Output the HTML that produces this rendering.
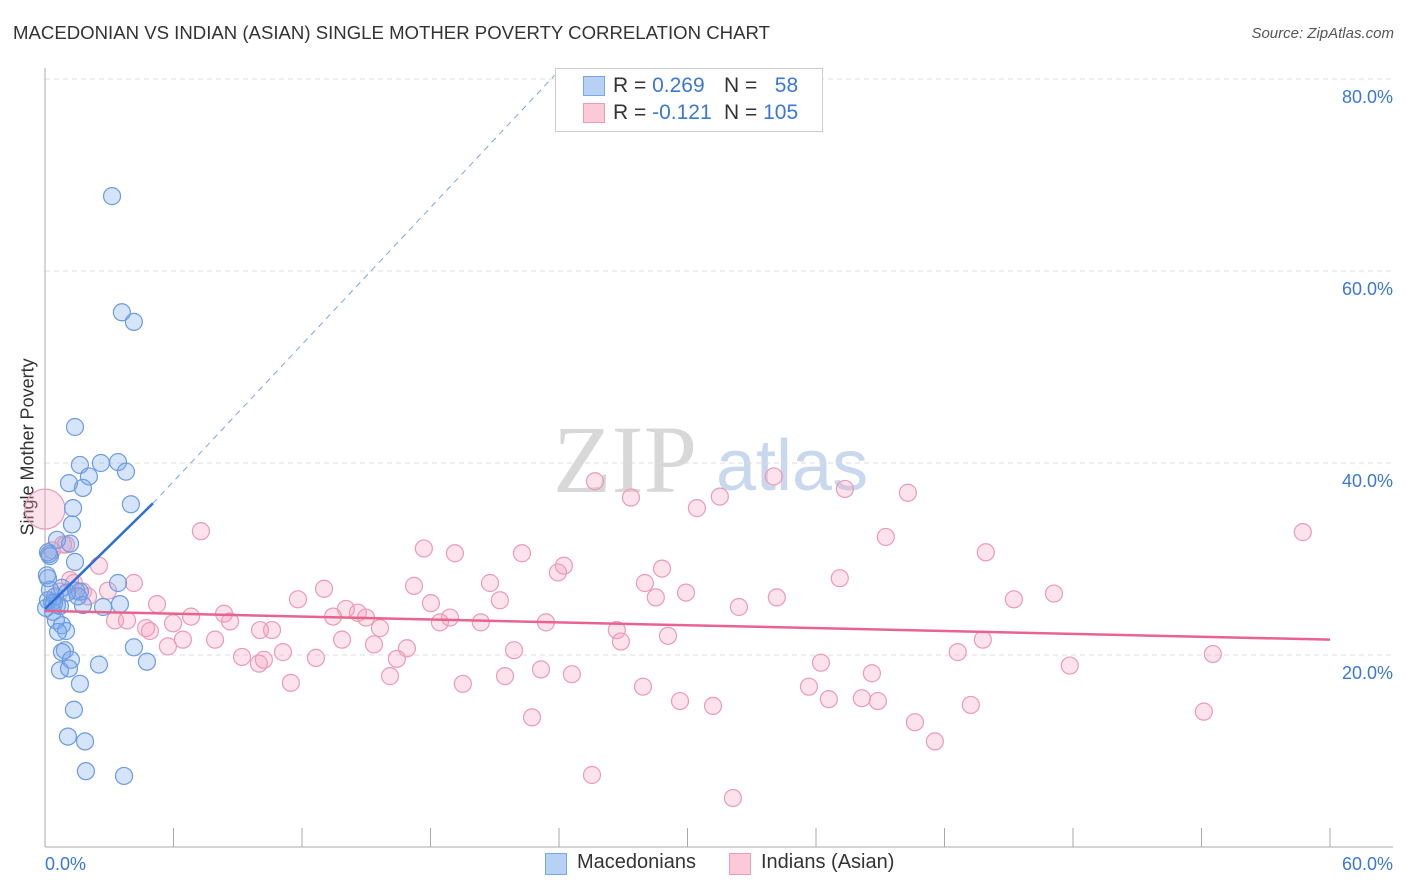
<!DOCTYPE html>
<html><head><meta charset="utf-8"><style>
body{margin:0;background:#fff;font-family:"Liberation Sans",sans-serif;}
#root{position:relative;width:1406px;height:892px;overflow:hidden;}
.t{position:absolute;white-space:nowrap;}
</style></head><body>
<div id="root">
<div class="t" style="left:13px;top:22px;font-size:18.6px;color:#333">MACEDONIAN VS INDIAN (ASIAN) SINGLE MOTHER POVERTY CORRELATION CHART</div>
<div class="t" style="right:12px;top:25px;font-size:15px;color:#555;font-style:italic">Source: ZipAtlas.com</div>
<div class="t" style="left:-52px;top:445px;width:160px;text-align:center;transform:rotate(-90deg);font-size:18px;color:#333">Single Mother Poverty</div>
<svg id="svg" width="1406" height="892" style="position:absolute;left:0;top:0">
<g id="wm">
<text x="553" y="492" font-family="Liberation Serif" font-size="96" fill="#d8d8d8">ZIP</text>
<text x="716" y="490" font-family="Liberation Sans" font-size="72" fill="#c8d8ee">atlas</text>
</g>
</svg>
<div style="position:absolute;left:555px;top:68px;width:266px;height:62px;border:1px solid #ccc;background:#fff;font-size:21px">
<div style="position:absolute;left:27px;top:7px;width:20px;height:18px;background:#b7d1f4;border:1px solid #7aa6e6"></div>
<div class="t" style="left:57px;top:5px;color:#333">R = <span style="color:#3b78d4">0.269</span></div>
<div class="t" style="left:168px;top:5px;color:#333">N = <span style="color:#3b78d4">&nbsp;&nbsp;58</span></div>
<div style="position:absolute;left:27px;top:34px;width:20px;height:18px;background:#fcc9d8;border:1px solid #ec9bb4"></div>
<div class="t" style="left:57px;top:32px;color:#333">R = <span style="color:#3b78d4">-0.121</span></div>
<div class="t" style="left:168px;top:32px;color:#333">N = <span style="color:#3b78d4">105</span></div>
</div>
<div style="position:absolute;left:545px;top:853px;width:20px;height:20px;background:#b7d1f4;border:1px solid #7aa6e6"></div>
<div class="t" style="left:577px;top:851px;font-size:20px;color:#333">Macedonians</div>
<div style="position:absolute;left:729px;top:853px;width:20px;height:20px;background:#fcc9d8;border:1px solid #ec9bb4"></div>
<div class="t" style="left:761px;top:851px;font-size:20px;color:#333">Indians (Asian)</div>
</div>
<script>
const yTicks=[20,40,60,80];
const yTickLabels=["20.0%","40.0%","60.0%","80.0%"];
const xTickLabels=["0.0%","60.0%"];
const blueX=[3.13,3.59,4.15,1.40,1.63,2.61,3.41,3.78,2.05,1.12,1.77,4.01,1.31,1.26,0.56,1.17,0.14,0.23,0.14,1.40,3.41,0.79,1.45,0.47,1.63,0.33,0.56,1.77,3.50,2.71,0.51,0.79,0.98,0.61,0.93,0.79,4.15,1.21,4.76,2.52,0.70,1.12,1.63,1.35,1.07,1.87,1.91,3.69,0.14,0.23,0.37,0.05,1.54,1.03,0.42,0.70,0.09,0.19];
const blueY=[67.8,55.7,54.7,43.75,39.8,40.0,40.1,39.1,38.6,37.9,37.4,35.7,35.3,33.6,32.0,31.6,30.7,30.3,28.0,29.7,27.5,27.0,26.7,26.1,26.6,25.5,25.2,25.2,25.3,25.0,23.6,23.1,22.5,22.4,20.5,20.3,20.8,19.5,19.3,19.0,18.4,18.6,17.0,14.3,11.5,11.0,7.9,7.4,25.7,26.8,24.5,24.9,26.1,26.5,25.4,25.1,28.3,30.5];
const pinkX=[25.68,27.36,31.51,34.03,37.35,40.29,58.73,30.44,7.28,17.69,19.14,22.27,24.23,23.95,39.26,43.93,2.52,4.15,0.98,0.70,1.77,1.35,2.94,5.23,6.82,8.36,8.64,10.04,10.60,11.81,13.03,13.45,14.05,14.61,14.99,15.64,16.90,17.23,18.02,18.44,18.91,20.35,20.78,21.24,21.90,23.39,26.70,26.89,28.01,28.52,28.81,29.09,29.93,32.40,34.17,37.11,45.24,47.11,43.79,42.62,47.85,54.53,3.27,3.83,4.72,4.90,5.98,5.74,6.44,7.94,9.20,9.99,10.22,11.11,12.65,13.87,15.36,16.43,16.11,11.48,19.51,21.48,23.16,24.60,27.92,29.65,31.19,35.67,36.23,36.60,38.14,38.61,38.89,40.62,41.55,43.23,54.11,22.74,25.54,32.12,0,0.84,1.17,0.33,2.01];
const pinkY=[38.1,36.4,36.5,38.6,37.3,36.9,32.8,35.3,32.9,31.1,30.6,30.6,29.3,28.6,32.3,30.7,29.3,27.5,31.5,26.6,26.6,27.5,26.7,25.3,24.0,24.3,23.5,22.6,22.6,25.8,26.9,24.0,24.8,24.4,23.9,22.8,20.7,27.2,25.4,23.4,23.9,23.4,27.5,25.7,20.5,23.4,22.6,21.4,27.5,26.0,29.0,22.0,26.5,25.0,26.0,28.0,25.8,26.4,21.6,20.3,18.9,20.1,23.6,23.6,22.8,22.5,23.3,20.9,21.6,21.6,19.8,19.1,19.5,20.3,19.7,21.6,21.1,19.6,17.8,17.1,17.0,17.8,18.5,18.0,16.7,15.2,14.7,16.7,19.2,15.4,15.5,18.1,15.2,13.0,11.0,14.8,14.1,13.5,7.5,5.1,35.2,31.5,27.8,30.9,26.1];
const pinkSize=[];pinkSize[100]=20;
const blueTrendY=[24.8,35.8,80.4];
const blueTrendX=[0,5.04,23.8];
const pinkTrend=[24.6,21.6];
const xMin=0,xMax=60,yMin=0,yMax=80;
const X=v=>45+(v-xMin)/(xMax-xMin)*1285;
const Y=v=>847-(v-yMin)/(yMax-yMin)*768;
const NS="http://www.w3.org/2000/svg";
const svg=document.getElementById('svg');
function mk(tag,attrs){const e=document.createElementNS(NS,tag);for(const k in attrs)e.setAttribute(k,attrs[k]);svg.appendChild(e);return e;}
yTicks.forEach((t,i)=>{
 const g=mk('line',{x1:45,x2:1393,y1:Y(t),y2:Y(t),stroke:'#ddd','stroke-dasharray':'5,4'});
 
 
 const tx=mk('text',{x:1393,y:Y(t)+24,'text-anchor':'end','font-size':18,fill:'#3b78d4','font-family':'Liberation Sans'});
 tx.textContent=yTickLabels[i];
 
 
});
const ax=mk('line',{x1:45,x2:45,y1:68,y2:847,stroke:'#aaa'});


const bx=mk('line',{x1:45,x2:1393,y1:847,y2:847,stroke:'#aaa'});


for(let i=0;i<=10;i++){const v=xMin+i*(xMax-xMin)/10;const tk=mk('line',{x1:X(v),x2:X(v),y1:828,y2:847,stroke:'#aaa'});
 
 }
const xl0=mk('text',{x:45,y:870,'font-size':18,fill:'#3b78d4','font-family':'Liberation Sans'});xl0.textContent=xTickLabels[0];


const xl1=mk('text',{x:1393,y:870,'text-anchor':'end','font-size':18,fill:'#3b78d4','font-family':'Liberation Sans'});xl1.textContent=xTickLabels[1];


pinkX.forEach((x,i)=>{const c=mk('circle',{cx:X(x),cy:Y(pinkY[i]),r:pinkSize[i]||8.5,fill:'rgba(244,160,188,0.3)',stroke:'#ec9bb4','stroke-width':1.2});
 
 });
blueX.forEach((x,i)=>{const c=mk('circle',{cx:X(x),cy:Y(blueY[i]),r:8.5,fill:'rgba(120,165,235,0.3)',stroke:'#6b9be0','stroke-width':1.2});
 
 });
const pl=mk('line',{x1:X(0),y1:Y(pinkTrend[0]),x2:X(60),y2:Y(pinkTrend[1]),stroke:'#e8648e','stroke-width':2.5});


const bd=mk('line',{x1:X(blueTrendX[1]),y1:Y(blueTrendY[1]),x2:X(blueTrendX[2]),y2:Y(blueTrendY[2]),stroke:'#7aa6e6','stroke-width':1,'stroke-dasharray':'6,5'});


const bl=mk('line',{x1:X(blueTrendX[0]),y1:Y(blueTrendY[0]),x2:X(blueTrendX[1]),y2:Y(blueTrendY[1]),stroke:'#2d6fd8','stroke-width':2.5});


</script>
</body></html>
